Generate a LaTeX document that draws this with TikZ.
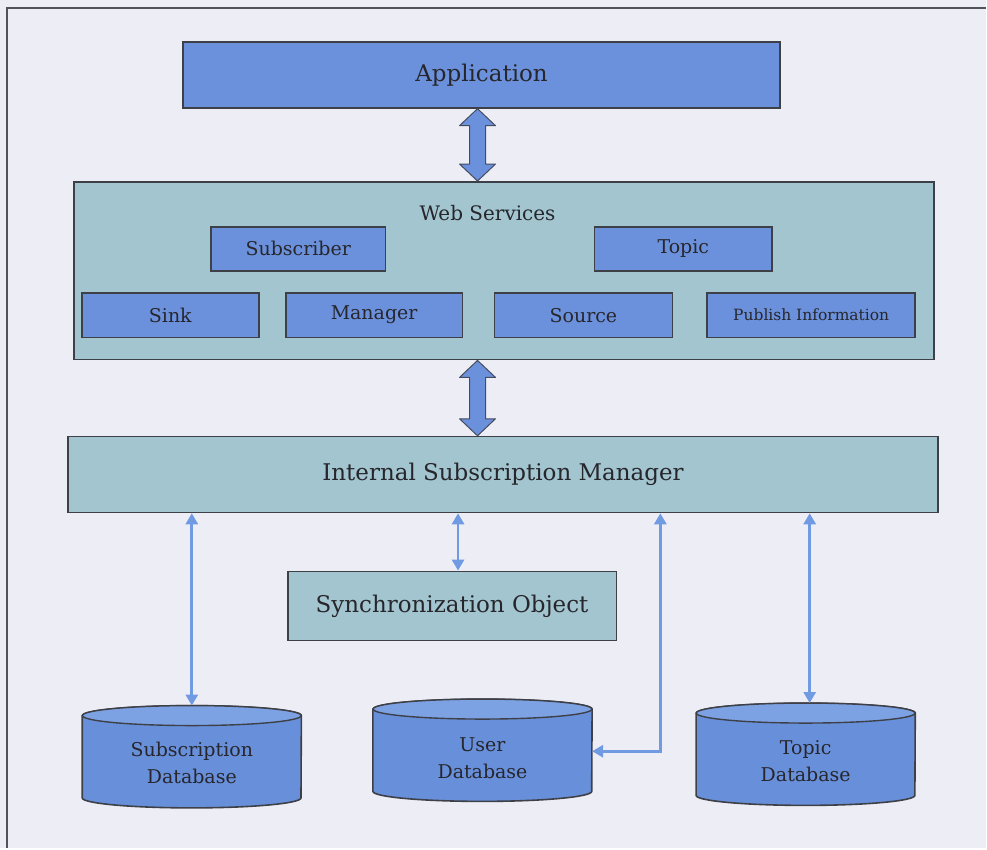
\documentclass[tikz,border=0pt]{standalone}
\usepackage{fontspec}
\setmainfont{DejaVu Serif}
\usetikzlibrary{calc,arrows.meta}

\definecolor{paper}{RGB}{237,237,246}
\definecolor{boxblue}{RGB}{108,145,220}
\definecolor{boxteal}{RGB}{163,197,207}
\definecolor{dbblue}{RGB}{104,143,218}
\definecolor{dbtop}{RGB}{124,162,228}
\definecolor{linkblue}{RGB}{112,155,226}
\definecolor{edge}{RGB}{62,64,72}
\definecolor{ink}{RGB}{38,38,44}

\pgfdeclarelayer{sheet}
\pgfdeclarelayer{back}
\pgfsetlayers{sheet,back,main}

\tikzset{
  box/.style={draw=edge, line width=1.6pt, inner sep=0pt, text=ink},
  bluebox/.style={box, fill=boxblue},
  tealbox/.style={box, fill=boxteal},
  bigfont/.style={font=\fontsize{23}{28}\selectfont},
  midfont/.style={font=\fontsize{19}{24}\selectfont},
  dbnode/.style={inner sep=0pt, minimum width=219, minimum height=102},
  dbtext/.style={align=center, text=ink, inner sep=0pt, font=\fontsize{19}{27}\selectfont},
  link/.style={draw=linkblue, line width=2.8pt,
    {Triangle[length=11pt,width=12pt]}-{Triangle[length=11pt,width=12pt]}},
  bigarrow/.style={fill=boxblue, draw=edge!85!boxblue, line width=1pt, line join=round},
}

% fat two-headed block arrow between two points on one vertical line
\newcommand\fatlink[2]{%
  \path[bigarrow] let \p1=(#1), \p2=(#2) in
    (\x1,\y1) -- (\x1+18pt,\y1-17pt) -- (\x1+8pt,\y1-17pt) --
    (\x1+8pt,\y2+17pt) -- (\x1+18pt,\y2+17pt) -- (\x1,\y2) --
    (\x1-18pt,\y2+17pt) -- (\x1-8pt,\y2+17pt) --
    (\x1-8pt,\y1-17pt) -- (\x1-18pt,\y1-17pt) -- cycle;}

% database cylinder drawn around a named node
\newcommand\dbdraw[1]{%
  \begin{pgfonlayer}{back}
    \filldraw[fill=dbblue, draw=edge, line width=1.6pt]
      ($(#1.north west)+(0,10)$) -- ($(#1.south west)+(0,-10)$)
      arc[start angle=180, end angle=360, x radius=109.5pt, y radius=10pt]
      -- ($(#1.north east)+(0,10)$)
      arc[start angle=0, end angle=180, x radius=109.5pt, y radius=10pt] -- cycle;
    \filldraw[fill=dbtop, draw=edge, line width=1.4pt]
      ($(#1.north)+(0,10)$) ellipse[x radius=109.5pt, y radius=10pt];
  \end{pgfonlayer}}

\begin{document}
\begin{tikzpicture}[x=1pt, y=-1pt]
  \begin{pgfonlayer}{sheet}
    \fill[paper] (0,0) rectangle (987,849);
    \draw[edge!90, line width=2pt] (7,849) -- (7,8) -- (987,8);
  \end{pgfonlayer}
  \useasboundingbox (0,0) rectangle (987,849);

  % top layers
  \node[bluebox, bigfont, minimum width=598, minimum height=66] (app) at (482,75) {Application};
  \node[tealbox, minimum width=861, minimum height=178] (ws) at (504.5,271) {};
  \node[text=ink, inner sep=0pt, font=\fontsize{20}{24}\selectfont] (wslabel) at (488,213) {Web Services};

  \node[bluebox, midfont, minimum width=175, minimum height=44] (sub) at (298.5,249) {Subscriber};
  \node[bluebox, midfont, minimum width=178, minimum height=44] (topic) at (684,249) {Topic};
  \node[bluebox, midfont, minimum width=177, minimum height=45] (sink) at (170.5,315.5) {Sink};
  \node[bluebox, midfont, minimum width=177, minimum height=45] (mgr) at (374.5,315.5) {Manager};
  \node[bluebox, midfont, minimum width=178, minimum height=45] (src) at (584,315.5) {Source};
  \node[bluebox, font=\fontsize{15.5}{18}\selectfont, minimum width=208, minimum height=45] (pub) at (812,315.5) {Publish Information};

  \node[tealbox, bigfont, minimum width=871, minimum height=76] (ism) at (503.5,475) {Internal Subscription Manager};
  \node[tealbox, bigfont, minimum width=329, minimum height=69] (sync) at (452.5,606.5) {Synchronization Object};

  % databases
  \node[dbnode] (subdb) at (192,757.5) {};
  \node[dbnode] (userdb) at (483,751) {};
  \node[dbnode] (topicdb) at (806.5,755) {};
  \dbdraw{subdb}
  \dbdraw{userdb}
  \dbdraw{topicdb}
  \node[dbtext] (subdbt) at (192,763.5) {Subscription\\Database};
  \node[dbtext] (userdbt) at (483,758.5) {User\\Database};
  \node[dbtext] (topicdbt) at (806.5,762) {Topic\\Database};

  % block arrows between the layers
  \coordinate (a1) at ([xshift=-4pt]app.south);
  \fatlink{a1}{a1 |- ws.north}
  \coordinate (a2) at (a1 |- ws.south);
  \fatlink{a2}{a2 |- ism.north}

  % links from the subscription manager
  \draw[link] (ism.south -| subdb.north) -- (subdb.north);
  \coordinate (syncin) at ([xshift=6pt]sync.north);
  \draw[link] (syncin |- ism.south) -- (syncin);
  \coordinate (bend) at (661,752);
  \draw[link] (bend |- ism.south) -- (bend) -- (bend -| userdb.east);
  \coordinate (topin) at ([xshift=4pt]topicdb.north);
  \draw[link] (topin |- ism.south) -- (topin);
\end{tikzpicture}
\end{document}
